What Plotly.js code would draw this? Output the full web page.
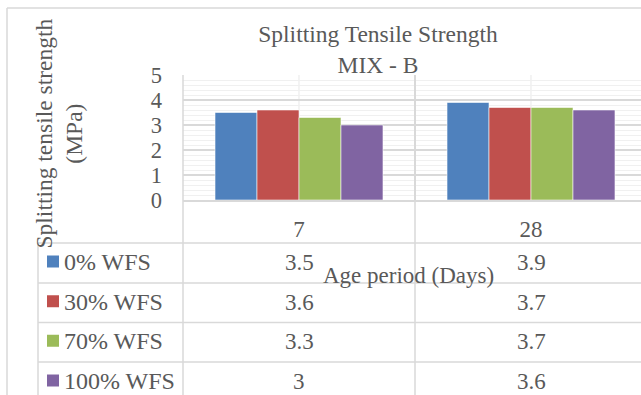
<!DOCTYPE html>
<html>
<head>
<meta charset="utf-8">
<script src="https://cdn.plot.ly/plotly-3.0.1.min.js"></script>
<style>
  html, body { margin: 0; padding: 0; background: #ffffff; }
  #chart { width: 641px; height: 395px; }
</style>
</head>
<body>
<div id="chart"></div>
<script>
// Age periods (days) on the category axis
const categories = ['7', '28'];

// Series names (waste foundry sand replacement levels)
const seriesNames = ['0% WFS', '30% WFS', '70% WFS', '100% WFS'];

// Splitting tensile strength values (MPa) per age period
const wfs0 = [3.5, 3.9];
const wfs30 = [3.6, 3.7];
const wfs70 = [3.3, 3.7];
const wfs100 = [3, 3.6];

const seriesValues = [wfs0, wfs30, wfs70, wfs100];
const seriesColors = ['#4f81bd', '#c0504d', '#9bbb59', '#8064a2'];

const FONT = 'Liberation Serif, Times New Roman, serif';
const TEXT = '#595959';
const LINE = '#d9d9d9';

// Figure geometry
const W = 641, H = 395;
const M = { l: 183, r: 0, t: 75, b: 195 };
const plotW = W - M.l - M.r;
const plotH = H - M.t - M.b;
const axisY = M.t + plotH;

// Convert pixel offsets to paper coordinates for the table decorations
const px = p => (p - M.l) / plotW;
const py = p => (axisY - p) / plotH;

// Data-table row boundaries (pixels below the top of the figure)
const rowEdges = [243, 283, 322.5, 362, 402];
const rowMid = i => (rowEdges[i] + rowEdges[i + 1]) / 2;

const traces = seriesValues.map((vals, i) => ({
  type: 'bar',
  name: seriesNames[i],
  x: categories,
  y: vals,
  marker: { color: seriesColors[i], line: { color: 'rgba(255,255,255,0.7)', width: 0.8 } },
  showlegend: false,
  hoverinfo: 'x+y+name'
}));

const shapes = [];
const lineShape = (x0, y0, x1, y1, color, width) => ({
  type: 'line', xref: 'paper', yref: 'paper',
  x0: px(x0), y0: py(y0), x1: px(x1), y1: py(y1),
  line: { color: color || LINE, width: width || 1.5 }, layer: 'above'
});

// Outer chart border
shapes.push(lineShape(7, 8, 7, H + 5));
shapes.push(lineShape(7, 8, W + 5, 8));

// Light vertical lines at category centres inside the plot area
categories.forEach((c, i) => {
  shapes.push({
    type: 'line', xref: 'x', yref: 'paper', x0: i, x1: i, y0: 0, y1: 1,
    line: { color: '#ececec', width: 1.2 }, layer: 'below'
  });
});

// Data table grid
rowEdges.slice(0, 4).forEach(y => shapes.push(lineShape(38, y, W + 5, y)));
shapes.push(lineShape(38, rowEdges[0], 38, H + 5));
shapes.push(lineShape(M.l, M.t, M.l, H + 5));
// category divider running through the table
shapes.push({
  type: 'line', xref: 'x', yref: 'paper', x0: 0.5, x1: 0.5, y0: py(H + 5), y1: 0,
  line: { color: LINE, width: 1.5 }, layer: 'above'
});

const annotations = [];

// Legend keys and series labels in the first table column
seriesNames.forEach((name, i) => {
  const cy = rowMid(i) - 1.5;
  shapes.push({
    type: 'rect', xref: 'paper', yref: 'paper',
    x0: px(47), x1: px(59), y0: py(cy - 6), y1: py(cy + 6),
    fillcolor: seriesColors[i], line: { width: 0 }, layer: 'above'
  });
  annotations.push({
    xref: 'paper', yref: 'paper', x: px(62), y: py(rowMid(i) - 1),
    xanchor: 'left', yanchor: 'middle', showarrow: false,
    text: name, font: { family: FONT, size: 24, color: TEXT }
  });
});

// Table values under each category
seriesValues.forEach((vals, i) => {
  vals.forEach((v, j) => {
    annotations.push({
      xref: 'x', yref: 'paper', x: j, y: py(rowMid(i) - 0.5),
      xanchor: 'center', yanchor: 'middle', showarrow: false,
      text: String(v), font: { family: FONT, size: 23, color: TEXT }
    });
  });
});

// Axis titles
annotations.push({
  xref: 'paper', yref: 'paper', x: px(58.5), y: py(134),
  xanchor: 'center', yanchor: 'middle', showarrow: false, textangle: -90,
  text: 'Splitting tensile strength<br>(MPa)',
  font: { family: FONT, size: 23.5, color: TEXT }
});
annotations.push({
  xref: 'paper', yref: 'paper', x: px(408), y: py(275),
  xanchor: 'center', yanchor: 'middle', showarrow: false,
  text: 'Age period (Days)', font: { family: FONT, size: 23, color: TEXT }
});

const layout = {
  width: W, height: H,
  margin: M,
  paper_bgcolor: '#ffffff', plot_bgcolor: '#ffffff',
  font: { family: FONT, color: TEXT },
  title: {
    text: 'Splitting Tensile Strength<br>MIX - B',
    font: { family: FONT, size: 23.5, color: TEXT },
    xref: 'container', yref: 'container',
    x: 378 / W, xanchor: 'center', y: 1 - 42 / H, yanchor: 'middle'
  },
  barmode: 'group',
  bargap: 0.276,
  bargroupgap: 0,
  xaxis: {
    type: 'category',
    categoryorder: 'array', categoryarray: categories,
    range: [-0.5, -0.5 + plotW / 232],
    tickson: 'boundaries',
    showgrid: true, gridcolor: LINE, gridwidth: 1.5,
    ticks: '',
    showline: true, linecolor: LINE, linewidth: 1.5,
    tickfont: { family: FONT, size: 23, color: TEXT },
    ticklabelstandoff: 8,
    fixedrange: true
  },
  yaxis: {
    range: [0, 5], dtick: 1, tick0: 0,
    showgrid: true, gridcolor: LINE, gridwidth: 1.5,
    minor: { dtick: 0.2, showgrid: true, gridcolor: '#f0f0f0', gridwidth: 1 },
    zeroline: false,
    showline: false,
    ticks: '',
    tickfont: { family: FONT, size: 22.5, color: TEXT },
    ticklabelstandoff: 20,
    fixedrange: true
  },
  shapes: shapes,
  annotations: annotations
};

Plotly.newPlot('chart', traces, layout, { displayModeBar: false, staticPlot: true });
</script>
</body>
</html>
